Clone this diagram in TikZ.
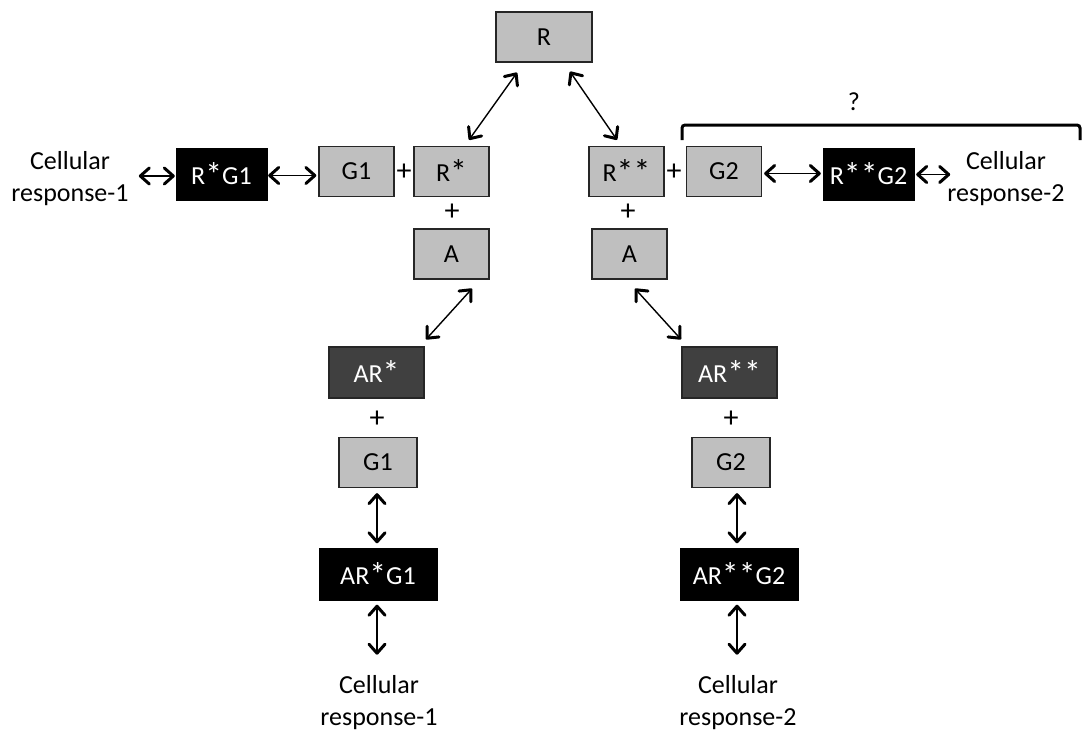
\documentclass[tikz,border=0pt]{standalone}
\usepackage{fontspec}
\usepackage{graphicx}
\setmainfont{Carlito}
\usetikzlibrary{arrows.meta,calc}
\definecolor{boxgray}{RGB}{191,191,191}
\definecolor{darkbox}{RGB}{64,64,64}
\newcommand\bast{\raisebox{-0.15ex}{\scalebox{1.3}{*}}}
\tikzset{
  txt/.style={font=\fontsize{26}{31}\selectfont},
  graybox/.style={txt,draw=black!85,line width=1.3pt,fill=boxgray,minimum height=50pt,inner sep=0pt},
  darkbox/.style={txt,draw=black!85,line width=1.3pt,fill=darkbox,text=white,minimum height=51pt,inner sep=0pt},
  blackbox/.style={txt,draw=black,fill=black,text=white,minimum height=52pt,inner sep=0pt},
  plus/.style={font=\fontsize{30}{34}\selectfont,inner sep=0pt},
  celltext/.style={align=center,inner sep=0pt,font=\fontsize{26}{32}\selectfont},
  tipA/.tip={Straight Barb[length=9pt,width=16pt,line width=3pt,round]},
  diagarrow/.style={line width=1.4pt,tipA-tipA},
  harrow/.style={line width=1.7pt,tipA-tipA},
  varrow/.style={line width=1.6pt,tipA-tipA},
}
\begin{document}
\begin{tikzpicture}[x=1pt,y=-1pt]
\useasboundingbox (0,0) rectangle (1091,733);
% top row
\node[graybox,minimum width=96pt] (R) at (544,37) {R};
\node[blackbox,minimum width=91pt] (RG1) at (221.5,174.5) {R\bast G1};
\node[graybox,minimum width=75pt] (G1) at (356.5,171.5) {G1};
\node[plus] (p1) at (404,172) {+};
\node[graybox,minimum width=75pt] (Rs) at (451.5,171.5) {R\bast};
\node[plus] (p2) at (452,212) {+};
\node[graybox,minimum width=75pt] (A1) at (451.5,254) {A};
\node[celltext] (C1) at (70,179) {Cellular\\response-1};

\node[graybox,minimum width=75pt] (Rss) at (626.5,171.5) {R\bast\bast};
\node[plus] (p3) at (674,172) {+};
\node[graybox,minimum width=75pt] (G2) at (724,171.5) {G2};
\node[blackbox,minimum width=91pt] (RG2) at (868.5,174.5) {R\bast\bast G2};
\node[celltext] (C2) at (1006,179) {Cellular\\response-2};
\node[plus] (p4) at (628,212) {+};
\node[graybox,minimum width=75pt] (A2) at (629.5,254) {A};

% bracket
\coordinate (bl) at (682,140);
\coordinate (br) at (1080,140);
\draw[line width=3pt,rounded corners=3pt] (bl) -- (682,125) -- (1080,125) -- (br);
\node[txt,inner sep=0pt] (q) at (854,102) {?};

% lower left
\node[darkbox,minimum width=95pt] (ARs) at (376.5,372.5) {AR\bast};
\node[plus] (p5) at (377,419) {+};
\node[graybox,minimum width=78pt] (G1b) at (378,462.5) {G1};
\node[blackbox,minimum width=118pt] (ARG1) at (378,574.5) {AR\bast G1};
\node[celltext] (C3) at (379,703) {Cellular\\response-1};

% lower right
\node[darkbox,minimum width=95pt] (ARss) at (729.5,372.5) {AR\bast\bast};
\node[plus] (p6) at (731,419) {+};
\node[graybox,minimum width=78pt] (G2b) at (731,462.5) {G2};
\node[blackbox,minimum width=118pt] (ARG2) at (739,574.5) {AR\bast\bast G2};
\node[celltext] (C4) at (738,703) {Cellular\\response-2};

% diagonal arrows
\draw[diagarrow] ($(R.south)+(-27,10)$) -- ($(Rs.north)+(17.5,-6)$);
\draw[diagarrow] ($(R.south)+(26,9)$) -- ($(Rss.north)+(-9.5,-6)$);
\draw[diagarrow] ($(A1.south)+(20.5,9)$) -- ($(ARs.north)+(49.5,-7)$);
\draw[diagarrow] ($(A2.south)+(5.5,9)$) -- ($(ARss.north)+(-48.5,-7)$);

% horizontal arrows
\draw[harrow] ($(RG1.west)+(-37,1.5)$) -- ($(RG1.west)+(-1,1.5)$);
\draw[harrow] ($(RG1.east)+(1,1)$) -- ($(G1.west)+(-2,4)$);
\draw[harrow] ($(G2.east)+(2,2)$) -- ($(RG2.west)+(-2,-1)$);
\draw[harrow] ($(RG2.east)+(2,0)$) -- ($(RG2.east)+(36,0)$);

% vertical arrows
\draw[varrow] ($(G1b.south)+(-1,5)$) -- ($(ARG1.north)+(-1,-5)$);
\draw[varrow] ($(ARG1.south)+(-1,4)$) -- ($(ARG1.south)+(-1,54)$);
\draw[varrow] ($(G2b.south)+(6,5)$) -- ($(ARG2.north)+(-2,-5)$);
\draw[varrow] ($(ARG2.south)+(-2,4)$) -- ($(ARG2.south)+(-2,54)$);
\end{tikzpicture}
\end{document}
